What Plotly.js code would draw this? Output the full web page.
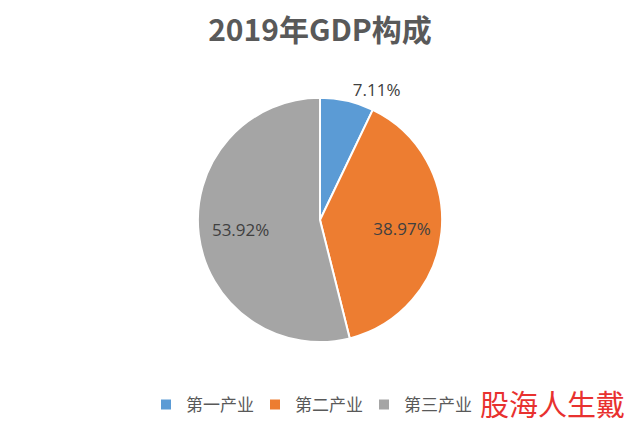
<!DOCTYPE html>
<html><head><meta charset="utf-8">
<script src="https://cdn.plot.ly/plotly-3.0.1.min.js"></script>
<style>html,body{margin:0;padding:0;background:#fff;}#chart{width:640px;height:433px;}</style>
</head><body><div id="chart"></div>
<script>
const categories = ['第一产业', '第二产业', '第三产业'];
const shares = [7.11, 38.97, 53.92];
const colors = ['#5B9BD5', '#ED7D31', '#A5A5A5'];
const chartTitle = '2019年GDP构成';
const watermark = '股海人生戴';

const labelFont = {family: 'Open Sans, Noto Sans, sans-serif', size: 17, color: '#404040'};

// visible pie with the outside label of the small slice
const pie = {
  type: 'pie',
  labels: categories,
  values: shares,
  sort: false,
  direction: 'clockwise',
  rotation: 0,
  marker: {colors: colors, line: {color: '#ffffff', width: 2}},
  texttemplate: '%{value:.2f}%',
  textposition: ['outside', 'none', 'none'],
  textfont: labelFont,
  outsidetextfont: labelFont,
  hoverinfo: 'label+percent',
  domain: {x: [0.309, 0.691], y: [0.210, 0.774]},
  automargin: false
};

// transparent companion pie: carries the inside labels a bit further out
const labelPie = {
  type: 'pie',
  labels: categories,
  values: shares,
  sort: false,
  direction: 'clockwise',
  rotation: 0,
  marker: {colors: ['rgba(0,0,0,0)', 'rgba(0,0,0,0)', 'rgba(0,0,0,0)'], line: {width: 0}},
  texttemplate: '%{value:.2f}%',
  textposition: ['none', 'inside', 'inside'],
  insidetextorientation: 'horizontal',
  textfont: labelFont,
  insidetextfont: labelFont,
  hoverinfo: 'skip',
  showlegend: false,
  domain: {x: [0.25, 0.75], y: [0.1225, 0.8615]},
  automargin: false
};

const layout = {
  width: 640, height: 433,
  margin: {l: 0, r: 0, t: 0, b: 0},
  paper_bgcolor: '#ffffff',
  title: {text: chartTitle, x: 0.5, xanchor: 'center', y: 1 - 30/433, yanchor: 'middle',
          font: {family: 'Noto Sans CJK SC, sans-serif', size: 30, color: '#595959', weight: 'bold'}},
  showlegend: true,
  legend: {orientation: 'h', x: 146/640, xanchor: 'left', y: 1 - 405/433, yanchor: 'middle',
           font: {family: 'Noto Sans CJK SC, sans-serif', size: 17, color: '#595959'},
           entrywidth: 64, entrywidthmode: 'pixels', traceorder: 'normal'},
  annotations: [{text: watermark, xref: 'paper', yref: 'paper', x: 478/640, xanchor: 'left',
                 y: 1 - 403/433, yanchor: 'middle', showarrow: false,
                 font: {family: 'Noto Sans CJK SC, sans-serif', size: 29, color: '#E8312F'}}]
};

Plotly.newPlot('chart', [pie, labelPie], layout, {displayModeBar: false, staticPlot: true});
</script></body></html>
